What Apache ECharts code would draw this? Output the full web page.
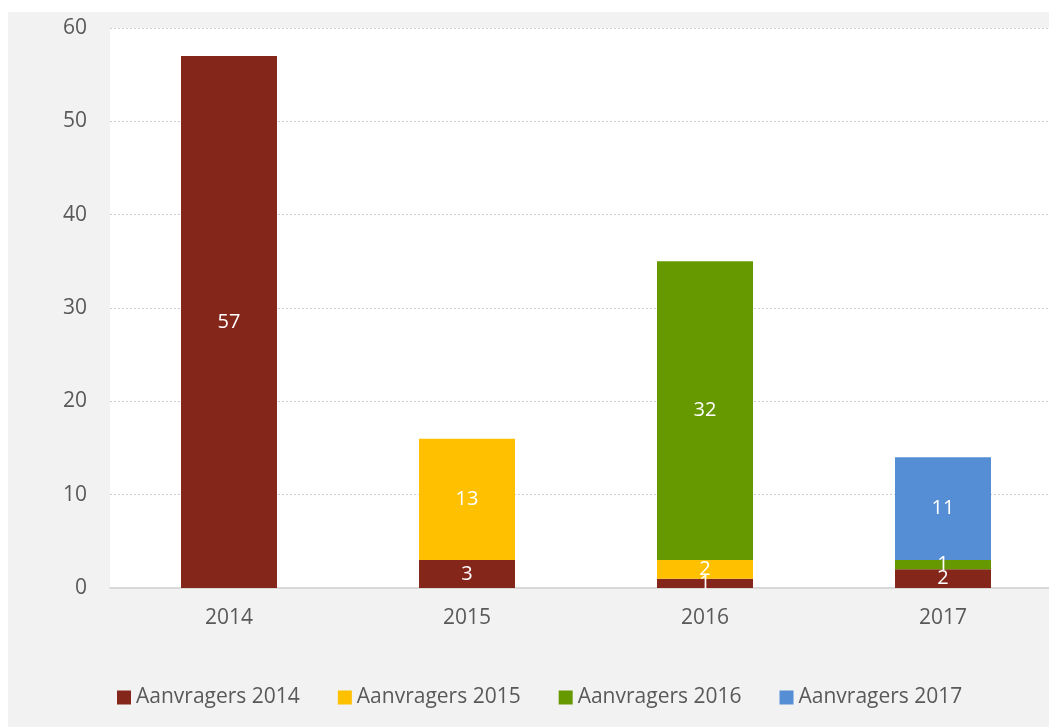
<!DOCTYPE html>
<html>
<head>
<meta charset="utf-8">
<script src="https://cdn.jsdelivr.net/npm/echarts@6/dist/echarts.min.js"></script>
<style>
    html, body { margin: 0; padding: 0; background: #fff; overflow: hidden; }
    #main { position: absolute; left: 8px; top: 12px; width: 1054px; height: 715px; }
</style>
</head>
<body>
<div id="main"></div>
<script type="text/javascript">
    // categorieen en waarden
    var jaren = ['2014', '2015', '2016', '2017'];
    var reeksNamen = ['Aanvragers 2014', 'Aanvragers 2015', 'Aanvragers 2016', 'Aanvragers 2017'];
    var aanvragers2014 = [57, 3, 1, 2];
    var aanvragers2015 = [null, 13, 2, null];
    var aanvragers2016 = [null, null, 32, 1];
    var aanvragers2017 = [null, null, null, 11];
    var kleuren = ['#84261a', '#ffc000', '#669900', '#558ed5'];
    var yTicks = [0, 10, 20, 30, 40, 50, 60];

    var font = '"Open Sans", "DejaVu Sans", sans-serif';
    var reeksData = [aanvragers2014, aanvragers2015, aanvragers2016, aanvragers2017];

    var series = reeksNamen.map(function (naam, i) {
        return {
            name: naam,
            type: 'bar',
            stack: 'totaal',
            barWidth: 96,
            data: reeksData[i],
            itemStyle: { color: kleuren[i] },
            label: {
                show: true,
                position: 'inside',
                color: '#fff',
                fontSize: 20,
                fontFamily: font
            }
        };
    });

    var myChart = echarts.init(document.getElementById('main'));
    var option = {
        backgroundColor: '#f2f2f2',
        animation: false,
        color: kleuren,
        grid: {
            left: 102,
            right: 0,
            top: 16,
            bottom: 139,
            show: true,
            backgroundColor: '#fff',
            borderWidth: 0
        },
        legend: {
            left: 104,
            top: 670,
            itemWidth: 14,
            itemHeight: 14,
            itemGap: 38,
            icon: 'rect',
            textStyle: { color: '#595959', fontSize: 21, fontFamily: font },
            data: reeksNamen
        },
        xAxis: {
            type: 'category',
            data: jaren,
            axisTick: { show: false },
            axisLine: { lineStyle: { color: '#d9d9d9', width: 2 } },
            axisLabel: { color: '#595959', fontSize: 21, fontFamily: font, margin: 20 }
        },
        yAxis: {
            type: 'value',
            min: yTicks[0],
            max: yTicks[yTicks.length - 1],
            interval: 10,
            axisLine: { show: false },
            axisTick: { show: false },
            axisLabel: { color: '#595959', fontSize: 21, fontFamily: font, margin: 23 },
            splitLine: { lineStyle: { color: '#cfcfcf', type: [2, 2], width: 1 } }
        },
        series: series
    };
    myChart.setOption(option);
</script>
</body>
</html>
